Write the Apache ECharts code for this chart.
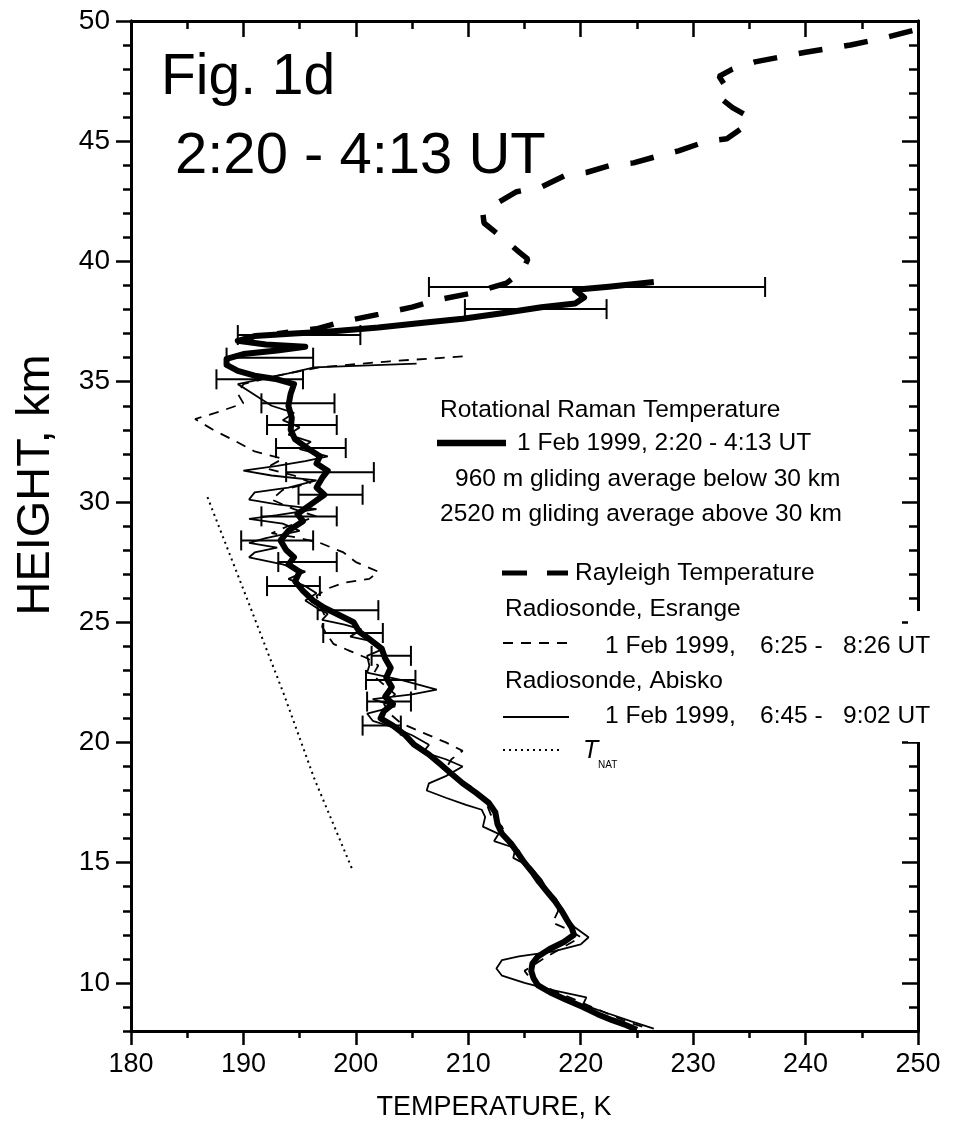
<!DOCTYPE html>
<html><head><meta charset="utf-8">
<script src="https://cdn.jsdelivr.net/npm/echarts@6/dist/echarts.min.js"></script>
<style>html,body{margin:0;padding:0;background:#fff}#c{width:980px;height:1127px}</style>
</head><body><div id="c"></div>
<script>
// ---------- DATA ----------
const xTickLabels = [180,190,200,210,220,230,240,250];
const yTickLabels = [10,15,20,25,30,35,40,45,50];

// Rotational Raman temperature (thick solid)
const ramanT = [226.5,222.5,219.5,220.3,219.5,216.5,213,209.5,206,202,198,194.5,191,189.5,192,195.5,193,190,188.5,188.5,189.5,191,193,194.5,194.2,194,194.3,194.2,194.6,195.8,196.8,196.5,197.5,197,196.5,197.2,196,194.8,195.3,194,193.3,193.8,194.5,194,195,194.6,195.3,196.2,197.2,198.5,199.8,200.3,201.2,202.3,202.6,203.1,202.7,203.2,202.6,203.3,202.5,202.2,203.3,204.4,205.2,206.5,207.5,208.5,209.5,210.7,211.8,212.4,212.6,213,213.8,214.4,215,215.7,216.3,217,217.7,218.3,218.8,219.2,219.4,218.5,217.2,216.2,215.7,215.6,215.8,216.2,217.3,218.7,220.2,221.5,222.8,224,225];
const ramanH = [39.15,38.95,38.82,38.5,38.25,38.1,37.85,37.62,37.45,37.25,37.1,37.0,36.9,36.7,36.55,36.45,36.3,36.15,35.95,35.7,35.45,35.25,35.1,34.9,34.5,34.0,33.5,33.0,32.6,32.2,31.9,31.6,31.3,31.0,30.6,30.3,29.9,29.5,29.2,28.8,28.4,28.0,27.7,27.4,27.1,26.7,26.3,25.9,25.6,25.3,25.0,24.6,24.3,23.9,23.5,23.1,22.7,22.3,21.9,21.6,21.3,21.0,20.7,20.3,19.9,19.5,19.1,18.7,18.3,17.9,17.5,17.1,16.6,16.2,15.8,15.4,15.0,14.6,14.2,13.8,13.4,13.0,12.6,12.3,12.0,11.7,11.4,11.1,10.8,10.5,10.2,9.9,9.6,9.3,9.0,8.7,8.45,8.25,8.05];

// Error bars of the rotational Raman temperature
const errH  = [38.94,38.02,36.94,36.0,35.1,34.1,33.2,32.24,31.24,30.3,29.4,28.4,27.5,26.5,25.5,24.55,23.6,22.6,21.7,20.7];
const errLo = [206.5,209.7,189.5,188.5,187.6,191.6,192.1,192.9,193.8,194.9,191.6,189.8,193.1,192.1,196.6,197.1,201.4,200.9,201.0,200.6];
const errHi = [236.4,222.3,200.4,196.2,195.3,198.1,198.3,199.1,201.6,200.6,198.3,196.2,198.3,196.8,202.0,202.4,204.9,205.3,204.9,204.0];

// Rayleigh temperature (thick dashed)
const rayT = [249.5,247,244,240,235.5,233.5,232.3,233,232.4,233.5,235,234.2,233,231.2,228.7,227,224.7,222.7,220.5,218.7,216.5,214.3,212.1,211.3,211.4,213.5,214.5,215.3,214.8,213.4,210.5,207.2,205,202,198.8,196.5,193];
const rayH = [49.6,49.3,49.0,48.7,48.3,48.0,47.7,47.2,46.8,46.4,46.0,45.5,45.1,45.0,44.6,44.4,44.1,44.0,43.7,43.6,43.1,42.9,42.3,42.0,41.6,40.8,40.4,40.1,39.6,39.1,38.7,38.4,38.1,37.8,37.5,37.2,37.0];

// Radiosonde Esrange (thin dashed)
const esrT = [209.5,203,196.8,192.5,190,189.5,190,187.5,185.7,187.3,189,191,193.5,192,194.5,196,193.5,192.5,194.5,196.5,194,192.5,195,196.8,198.9,200,202,201.2,199,197.5,196.5,196.8,197.2,197,198,199.5,201,202,201.5,202.5,203.5,202.5,203,204,206,208,209.5,208.5,208,209,210.5,211.5,212,213,213.5,214.5,215,216,216.5,217.5,218,217.5,219,220,218.5,217,216,215,215.5,216.5,218,220,222,224,226];
const esrH = [36.05,35.85,35.6,35.2,34.9,34.5,34.1,33.7,33.45,33.0,32.6,32.1,31.8,31.4,31.1,30.8,30.5,30.1,29.7,29.4,29.0,28.7,28.5,28.3,27.9,27.5,27.1,26.8,26.65,26.4,26.1,25.7,25.3,24.8,24.1,23.8,23.5,23.2,22.8,22.4,22.0,21.6,21.2,20.8,20.4,20.0,19.65,19.3,18.9,18.5,18.1,17.6,17.0,16.5,16.0,15.5,15.0,14.5,14.0,13.5,13.0,12.5,12.2,11.9,11.5,11.1,10.8,10.5,10.2,9.9,9.6,9.2,8.8,8.4,8.1];

// Radiosonde Abisko (thin solid)
const abiT = [205.4,196.3,194,191.5,189.5,190.5,191.5,192.5,194.5,193.5,195,194,196,195,197.5,195.5,193,190,192.5,196.5,194,191,190.5,193,196.5,193,190.5,193.5,195,192,190.5,193,191,190.5,193.5,195.5,194,195.5,196.5,195.5,196.5,197.5,197,199,200.5,199.5,201.5,202.5,201,201.2,201,204,207.2,205,201.5,203.5,201,201.5,203.5,205,206.5,206,208,209.5,208,206.5,206.3,208,209.8,211.2,211.5,211.3,212.7,212.3,214.2,214,215.6,216.5,217,217.8,218.3,218.7,219.5,220.7,220,217.5,214.5,213,212.5,213,215,217.5,220.5,220.2,222,224.5,226.5];
const abiH = [35.75,35.6,35.35,35.1,34.9,34.6,34.3,34.0,33.7,33.4,33.1,32.8,32.5,32.2,31.9,31.7,31.5,31.3,31.1,30.9,30.6,30.4,30.1,29.9,29.7,29.45,29.3,29.1,28.8,28.5,28.3,28.1,27.9,27.7,27.4,27.1,26.8,26.5,26.2,25.9,25.6,25.35,25.1,24.9,24.7,24.4,24.2,23.9,23.6,23.2,22.9,22.6,22.2,22.0,21.8,21.5,21.2,20.9,20.6,20.3,19.9,19.6,19.3,19.0,18.6,18.3,18.0,17.7,17.4,17.2,16.9,16.5,16.2,15.9,15.6,15.2,14.8,14.3,13.9,13.5,13.1,12.7,12.3,11.9,11.6,11.3,11.1,10.95,10.6,10.3,10.0,9.7,9.4,9.1,8.8,8.4,8.1];

// T_NAT (dotted)
const natT = [186.8,190.3,193.6,196.3,199.7];
const natH = [30.2,26.0,22.0,18.5,14.7];

// ---------- CHART ----------
const FONT = "'Liberation Sans', Arial, Helvetica, sans-serif";
const zip = (a, b) => a.map((v, i) => [v, b[i]]);
const K = '#000';

const chart = echarts.init(document.getElementById('c'), null, {renderer: 'canvas'});

const baseX = {type: 'value', min: 180, max: 250, interval: 10,
  splitLine: {show: false}, minorSplitLine: {show: false},
  axisLine: {show: true, onZero: false, lineStyle: {color: K, width: 3}}};
const baseY = {type: 'value', min: 8, max: 50,
  splitLine: {show: false}, minorSplitLine: {show: false},
  axisLine: {show: true, onZero: false, lineStyle: {color: K, width: 3}}};

const lineSeries = (name, T, H, style, z) => ({
  name, type: 'line', xAxisIndex: 0, yAxisIndex: 0, data: zip(T, H),
  showSymbol: false, symbol: 'none', smooth: false, clip: true,
  lineStyle: style, z: z, silent: true
});

const txt = (text, x, y, size, extra) => ({
  type: 'text', x: x, y: y, silent: true, z: 100,
  style: Object.assign({text: text, fill: K, font: size + 'px ' + FONT, align: 'left', verticalAlign: 'middle'}, extra || {})
});

const seg = (x1, y1, x2, y2, w, dash) => ({
  type: 'line', silent: true, z: 100,
  shape: {x1, y1, x2, y2},
  style: {stroke: K, lineWidth: w, lineDash: dash || null}
});

chart.setOption({
  animation: false,
  backgroundColor: '#fff',
  grid: {left: 131, right: 62, top: 21, bottom: 96, containLabel: false},
  xAxis: [
    Object.assign({}, baseX, {position: 'bottom',
      axisTick: {show: true, inside: false, length: 14, lineStyle: {color: K, width: 2.5}},
      minorTick: {show: true, splitNumber: 2, length: 7, lineStyle: {color: K, width: 2.5}},
      axisLabel: {show: true, fontSize: 27, color: K, fontFamily: FONT, margin: 20,
        customValues: xTickLabels}}),
    Object.assign({}, baseX, {position: 'top',
      axisTick: {show: true, inside: true, length: 16, lineStyle: {color: K, width: 2.5}},
      minorTick: {show: true, splitNumber: 2, length: 8, lineStyle: {color: K, width: 2.5}},
      axisLabel: {show: false}})
  ],
  yAxis: [
    Object.assign({}, baseY, {position: 'left', interval: 1,
      axisTick: {show: true, inside: false, length: 8, lineStyle: {color: K, width: 2.5}},
      axisLabel: {show: false}}),
    Object.assign({}, baseY, {position: 'left', interval: 1,
      axisTick: {show: true, inside: false, length: 15, customValues: yTickLabels, lineStyle: {color: K, width: 2.5}},
      axisLabel: {show: true, fontSize: 28, color: K, fontFamily: FONT, margin: 21, customValues: yTickLabels}}),
    Object.assign({}, baseY, {position: 'right', interval: 1,
      axisTick: {show: true, inside: true, length: 9, lineStyle: {color: K, width: 2.5}},
      axisLabel: {show: false}}),
    Object.assign({}, baseY, {position: 'right', interval: 1,
      axisTick: {show: true, inside: true, length: 16, customValues: yTickLabels, lineStyle: {color: K, width: 2.5}},
      axisLabel: {show: false}})
  ],
  series: [
    lineSeries('T_NAT', natT, natH, {color: K, width: 2, type: [2, 4]}, 2),
    lineSeries('Radiosonde, Abisko', abiT, abiH, {color: K, width: 1.8, type: 'solid'}, 3),
    lineSeries('Radiosonde, Esrange', esrT, esrH, {color: K, width: 1.8, type: [10, 8]}, 3),
    lineSeries('Rayleigh Temperature', rayT, rayH, {color: K, width: 5.5, type: [24, 22], cap: 'butt'}, 4),
    {
      name: 'error', type: 'custom', xAxisIndex: 0, yAxisIndex: 0, z: 5, silent: true,
      data: errH.map((h, i) => [errLo[i], errHi[i], h]),
      encode: {x: [0, 1], y: 2},
      renderItem: function (params, api) {
        const lo = api.coord([api.value(0), api.value(2)]);
        const hi = api.coord([api.value(1), api.value(2)]);
        const c = 10;
        const st = {stroke: K, lineWidth: 2};
        return {type: 'group', children: [
          {type: 'line', shape: {x1: lo[0], y1: lo[1], x2: hi[0], y2: hi[1]}, style: st},
          {type: 'line', shape: {x1: lo[0], y1: lo[1] - c, x2: lo[0], y2: lo[1] + c}, style: st},
          {type: 'line', shape: {x1: hi[0], y1: hi[1] - c, x2: hi[0], y2: hi[1] + c}, style: st}
        ]};
      }
    },
    lineSeries('Rotational Raman Temperature', ramanT, ramanH, {color: K, width: 6, type: 'solid', join: 'round'}, 6)
  ],
  graphic: [
    {type: 'rect', silent: true, z: 99, shape: {x: 908, y: 611, width: 30, height: 131}, style: {fill: '#fff'}},
    txt('Fig. 1d', 161, 78, 57),
    txt('2:20 - 4:13 UT', 175, 157, 58),
    txt('Rotational Raman Temperature', 440, 410, 24.5),
    seg(437, 443, 506, 443, 6.5),
    txt('1 Feb 1999, 2:20 - 4:13 UT', 517, 443, 24.5),
    txt('960 m gliding average below 30 km', 455, 479, 24.5),
    txt('2520 m gliding average above 30 km', 440, 514, 24.5),
    seg(502, 573, 568, 573, 5, [25, 20]),
    txt('Rayleigh Temperature', 575, 573, 24.5),
    txt('Radiosonde, Esrange', 505, 609, 24.5),
    seg(503, 643, 567, 643, 2, [10, 8]),
    txt('1 Feb 1999,', 605, 646, 24.5),
    txt('6:25 -', 760, 646, 24.5),
    txt('8:26 UT', 843, 646, 24.5),
    txt('Radiosonde, Abisko', 505, 681, 24.5),
    seg(503, 717, 569, 717, 2),
    txt('1 Feb 1999,', 605, 716, 24.5),
    txt('6:45 -', 760, 716, 24.5),
    txt('9:02 UT', 843, 716, 24.5),
    seg(503, 750, 563, 750, 2, [2, 4]),
    txt('T', 583, 751, 25, {font: 'italic 25px ' + FONT}),
    txt('NAT', 598, 765, 10),
    txt('TEMPERATURE, K', 494, 1108, 27, {align: 'center'}),
    {type: 'text', x: 36, y: 485, rotation: Math.PI / 2, silent: true, z: 100,
     style: {text: 'HEIGHT, km', fill: K, font: '47px ' + FONT, align: 'center', verticalAlign: 'middle'}}
  ]
});
</script></body></html>
